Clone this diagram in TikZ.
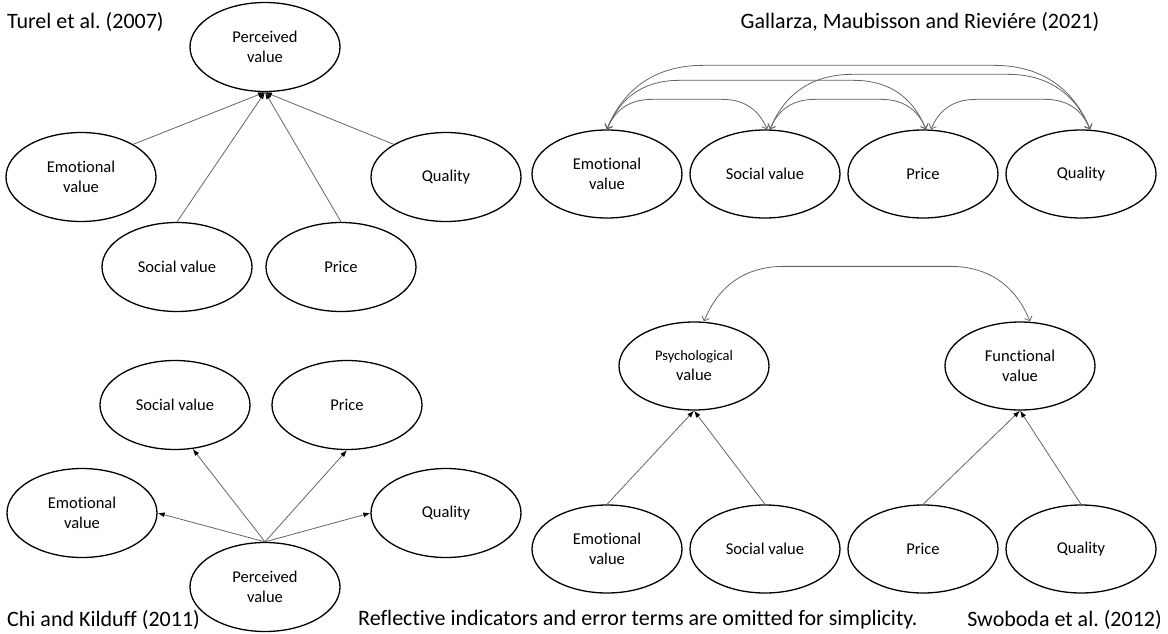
\documentclass[tikz,border=0pt]{standalone}
\usepackage{fontspec}
\setmainfont{Carlito}[Ligatures=NoCommon]
\usetikzlibrary{shapes.geometric,arrows.meta}
\frenchspacing
\begin{document}
\begin{tikzpicture}[x=1pt,y=-1pt,
  construct/.style={ellipse,draw=black,line width=1.3pt,minimum width=150pt,minimum height=89pt,
    inner sep=0pt,align=center,font=\fontsize{16.5}{20}\selectfont},
  caption/.style={inner sep=0pt,font=\fontsize{22}{24}\selectfont},
  link/.style={draw=black!60,line width=0.8pt},
  regress/.style={link,-{Latex[length=7pt,width=5pt,color=black]}},
  covar/.style={link,{Straight Barb[length=4pt,width=8pt]}-{Straight Barb[length=4pt,width=8pt]}},
]
\useasboundingbox[fill=white] (0,0) rectangle (1168,634);

% ---------- Turel et al. (2007): formative model ----------
\node[caption,anchor=west] (capA) at (7,22) {Turel et al. (2007)};
\node[construct] (pvA) at (265,47)  {Perceived\\value};
\node[construct] (emA) at (81,177)  {Emotional\\value};
\node[construct] (quA) at (446,177) {Quality};
\node[construct] (soA) at (177,267) {Social value};
\node[construct] (prA) at (341,267) {Price};
\draw[regress] (emA.32)    -- (pvA.south);
\draw[regress] (soA.north) -- (pvA.south);
\draw[regress] (prA.north) -- (pvA.south);
\draw[regress] (quA.148)   -- (pvA.south);

% ---------- Gallarza, Maubisson and Rieviere (2021): correlated dimensions ----------
\node[caption] (capB) at (920,22) {Gallarza, Maubisson and Rieviére (2021)};
\node[construct,minimum height=88pt] (emB) at (607,174) {Emotional\\value};
\node[construct,minimum height=88pt] (soB) at (765,174) {Social value};
\node[construct,minimum height=88pt] (prB) at (923,174) {Price};
\node[construct,minimum height=88pt] (quB) at (1081,174) {Quality};
% adjacent pairs
\draw[covar] (emB.north) .. controls +(7,-17) and +(-25,0) .. ++(45,-30) -- ++(70,0)
  .. controls +(25,0) and +(-7,-17) .. ([xshift=2pt]soB.north);
\draw[covar] ([xshift=5pt]soB.north) .. controls +(7,-17) and +(-25,0) .. ++(45,-30) -- ++(66,0)
  .. controls +(25,0) and +(-7,-17) .. ([xshift=3pt]prB.north);
\draw[covar] ([xshift=8pt]prB.north) .. controls +(7,-17) and +(-25,0) .. ++(45,-30) -- ++(69,0)
  .. controls +(25,0) and +(-7,-17) .. ([xshift=9pt]quB.north);
% wider pairs
\draw[covar] (emB.north) .. controls +(11,-27) and +(-40,0) .. ++(72,-49) -- ++(175,0)
  .. controls +(40,0) and +(-11,-27) .. ([xshift=3pt]prB.north);
\draw[covar] ([xshift=5pt]soB.north) .. controls +(12,-30) and +(-45,0) .. ++(82,-55) -- ++(156,0)
  .. controls +(45,0) and +(-12,-30) .. ([xshift=9pt]quB.north);
\draw[covar] (emB.north) .. controls +(14,-35) and +(-53,0) .. ++(96,-64) -- ++(291,0)
  .. controls +(53,0) and +(-14,-35) .. ([xshift=9pt]quB.north);

% ---------- Chi and Kilduff (2011): reflective model ----------
\node[caption,anchor=west] (capC) at (7,620) {Chi and Kilduff (2011)};
\node[construct] (soC) at (175,405) {Social value};
\node[construct] (prC) at (347,405) {Price};
\node[construct] (emC) at (82,513)  {Emotional\\value};
\node[construct] (quC) at (446,513) {Quality};
\node[construct] (pvC) at (265,587) {Perceived\\value};
\draw[regress] (pvC.north) -- (soC.-68);
\draw[regress] (pvC.north) -- (prC.south);
\draw[regress] (pvC.north) -- (emC.east);
\draw[regress] (pvC.north) -- (quC.west);

% ---------- Swoboda et al. (2012): second-order dimensions ----------
\node[caption,anchor=west] (note) at (358,620) {Reflective indicators and error terms are omitted for simplicity.};
\node[caption,anchor=east] (capD) at (1162,620) {Swoboda et al. (2012)};
\node[construct,minimum height=88pt] (psD) at (694,366)
  {{\fontsize{14.5}{20}\selectfont Psychological}\\value};
\node[construct,minimum height=88pt] (fuD) at (1020,366) {Functional\\value};
\node[construct,minimum height=88pt] (emD) at (607,549) {Emotional\\value};
\node[construct,minimum height=88pt] (soD) at (765,549) {Social value};
\node[construct,minimum height=88pt] (prD) at (923,549) {Price};
\node[construct,minimum height=88pt] (quD) at (1081,549) {Quality};
\draw[covar] ([xshift=10pt]psD.north) .. controls +(12,-30) and +(-44,0) .. ++(80,-55) -- ++(166,0)
  .. controls +(44,0) and +(-12,-30) .. ([xshift=10pt]fuD.north);
\draw[regress] (emD.north) -- (psD.south);
\draw[regress] (soD.north) -- (psD.south);
\draw[regress] (prD.north) -- (fuD.south);
\draw[regress] (quD.north) -- (fuD.south);
\end{tikzpicture}
\end{document}
